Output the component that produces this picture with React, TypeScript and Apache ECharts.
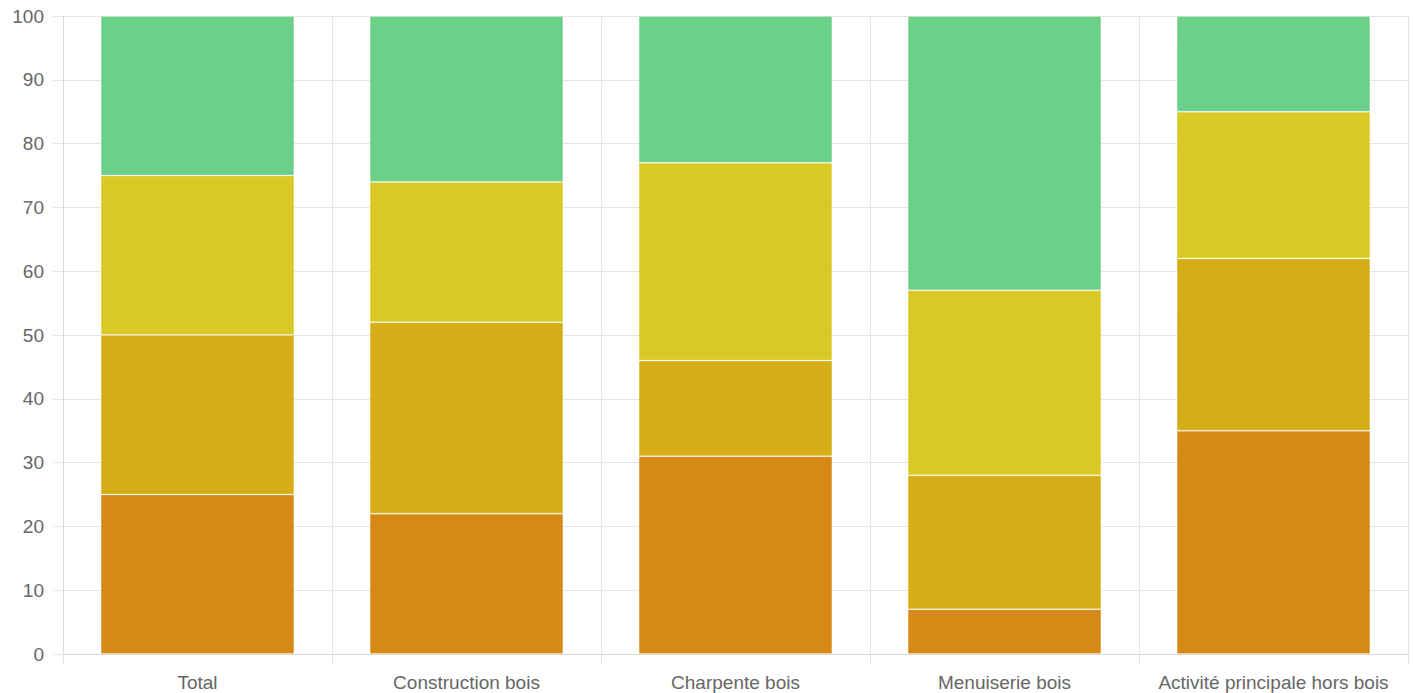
import React, { useEffect, useRef } from "react";
import * as echarts from "echarts";

const categories = ["Total", "Construction bois", "Charpente bois", "Menuiserie bois", "Activité principale hors bois"];
const seriesNames = ["Série 1", "Série 2", "Série 3", "Série 4"];
const serie1 = [25, 22, 31, 7, 35];
const serie2 = [25, 30, 15, 21, 27];
const serie3 = [25, 22, 31, 29, 23];
const serie4 = [25, 26, 23, 43, 15];
const colors = ["#D68915", "#D5AE17", "#D8C925", "#6BD189"];

export default function App() {
  const ref = useRef<HTMLDivElement>(null);
  useEffect(() => {
    const chart = echarts.init(ref.current!, null, { renderer: "svg" });
    const data = [serie1, serie2, serie3, serie4];
    chart.setOption({
      animation: false,
      textStyle: { fontFamily: "'Liberation Sans', Arial, sans-serif" },
      grid: { left: 63, right: 7, top: 16, bottom: 39, containLabel: false },
      xAxis: {
        type: "category",
        data: categories,
        boundaryGap: true,
        axisLine: { show: true, lineStyle: { color: "#d9d9d9", width: 1 } },
        axisTick: { show: true, interval: 0, length: 10, lineStyle: { color: "#e5e5e5" } },
        splitLine: { show: true, interval: 0, lineStyle: { color: "#e5e5e5", width: 1 } },
        axisLabel: { color: "#666", fontSize: 19, margin: 19, interval: 0, hideOverlap: false },
      },
      yAxis: {
        type: "value",
        min: 0,
        max: 100,
        interval: 10,
        axisLine: { show: true, lineStyle: { color: "#d9d9d9", width: 1 } },
        axisTick: { show: true, length: 10, lineStyle: { color: "#e5e5e5" } },
        splitLine: { show: true, lineStyle: { color: "#e5e5e5", width: 1 } },
        axisLabel: { color: "#666", fontSize: 19, margin: 19 },
      },
      series: data.map((d, i) => ({
        name: seriesNames[i],
        type: "bar",
        stack: "total",
        data: d,
        barCategoryGap: "28%",
        itemStyle: { color: colors[i], borderColor: "rgba(255,255,255,0.2)", borderWidth: 1 },
      })),
    });
    return () => chart.dispose();
  }, []);
  return <div ref={ref} style={{ position: "absolute", left: 0, top: 0, width: 1415, height: 693 }} />;
}
